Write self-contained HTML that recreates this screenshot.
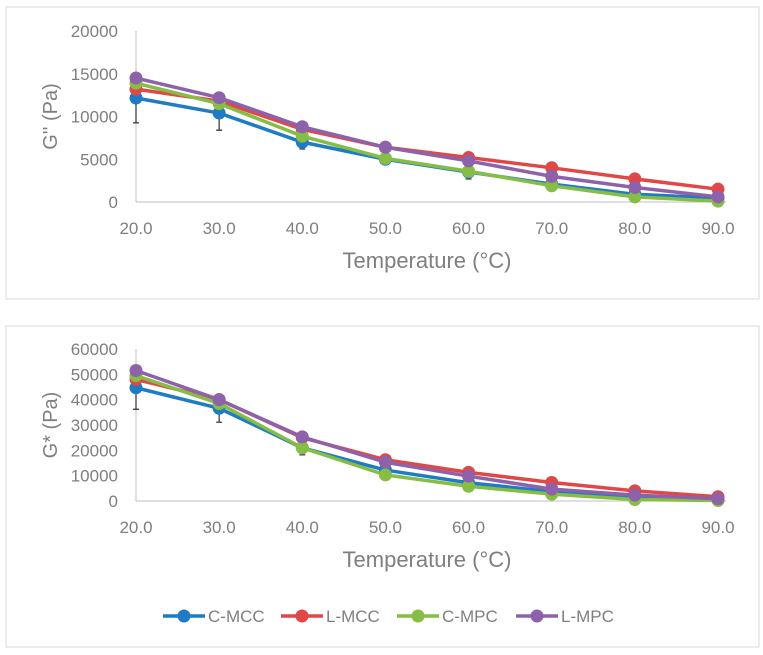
<!DOCTYPE html>
<html><head><meta charset="utf-8"><style>
body{margin:0;background:#fff;}
svg{display:block;font-family:"Liberation Sans",sans-serif;}
</style></head><body>
<svg id="c" width="763" height="655" viewBox="0 0 763 655">
<rect x="6" y="7" width="753" height="292" fill="#fff" stroke="#d9d9d9"/>
<rect x="6" y="326" width="753" height="321" fill="#fff" stroke="#d9d9d9"/>
<g id="top"></g><g id="bot"></g><g id="legend"></g>
</svg>
<script>
const temps=["20.0","30.0","40.0","50.0","60.0","70.0","80.0","90.0"];
const seriesNames=["C-MCC","L-MCC","C-MPC","L-MPC"];
const colors=["#1f7cc4","#e04848","#86bd45","#8e62aa"];
const topTicks=[0,5000,10000,15000,20000];
const topCMCC=[12160,10400,7000,5000,3500,2100,900,450];
const topLMCC=[13200,11800,8500,6400,5200,4000,2700,1500];
const topCMPC=[13900,11500,7700,5100,3600,1900,600,100];
const topLMPC=[14500,12200,8800,6400,4800,3000,1700,600];
const topErr=[2900,2000,800,500,800,500,300,200];
const botTicks=[0,10000,20000,30000,40000,50000,60000];
const botCMCC=[44700,36600,21000,12200,7200,3700,1700,700];
const botLMCC=[48000,40000,25000,16300,11300,7300,4000,1700];
const botCMPC=[49500,38500,21000,10300,5800,2700,600,200];
const botLMPC=[51500,40000,25300,15300,9800,4700,2300,900];
const botErr=[8500,5500,2800,1200,900,600,400,300];
const NS="http://www.w3.org/2000/svg";
function mk(p,t,a){const e=document.createElementNS(NS,t);for(const k in a)e.setAttribute(k,a[k]);p.appendChild(e);return e;}
function chart(g,cfg){
  const x0=136,x1=718;
  const xs=i=>x0+(x1-x0)*i/(temps.length-1);
  const ys=v=>cfg.yb-(cfg.yb-cfg.yt)*v/cfg.max;
  const ya=mk(g,'line',{x1:x0,y1:cfg.yt,x2:x0,y2:cfg.yb,stroke:'#bfbfbf'});
  
  
  const xa=mk(g,'line',{x1:x0,y1:cfg.yb,x2:x1+8,y2:cfg.yb,stroke:'#bfbfbf'});
  
  
  cfg.ticks.forEach(t=>{const e=mk(g,'text',{x:x0-18,y:ys(t)+6,'text-anchor':'end','font-size':17,fill:'#7f7f7f'});e.textContent=t;
    
    });
  temps.forEach((t,i)=>{const e=mk(g,'text',{x:xs(i),y:cfg.yb+32,'text-anchor':'middle','font-size':17,fill:'#7f7f7f'});e.textContent=t;
    
    });
  const xt=mk(g,'text',{x:427,y:cfg.yb+66,'text-anchor':'middle','font-size':22,fill:'#7f7f7f'});xt.textContent='Temperature (°C)';
  
  
  const yt=mk(g,'text',{x:0,y:0,'text-anchor':'middle','font-size':20,fill:'#7f7f7f',transform:`translate(${cfg.tx},${(cfg.yt+cfg.yb)/2}) rotate(-90)`});yt.textContent=cfg.title;
  
  
  cfg.data.forEach((d,s)=>{
    const pl=mk(g,'polyline',{points:d.map((v,i)=>xs(i)+','+ys(v)).join(' '),fill:'none',stroke:colors[s],'stroke-width':3.5});
    
    
    if(s===0){cfg.err.forEach((e,i)=>{const x=xs(i),a=ys(d[i]+e),b=ys(Math.max(0,d[i]-e));
      const eb=mk(g,'path',{d:`M${x},${a}V${b}M${x-3},${a}H${x+3}M${x-3},${b}H${x+3}`,stroke:'#404040','stroke-width':1.3,fill:'none'});
      
      });}
    d.forEach((v,i)=>{const c=mk(g,'circle',{cx:xs(i),cy:ys(v),r:6.5,fill:colors[s]});
      
      });
  });
}
chart(document.getElementById('top'),{yt:31,yb:202,max:20000,ticks:topTicks,title:"G'' (Pa)",tx:57,data:[topCMCC,topLMCC,topCMPC,topLMPC],err:topErr});
chart(document.getElementById('bot'),{yt:349,yb:501,max:60000,ticks:botTicks,title:"G* (Pa)",tx:57,data:[botCMCC,botLMCC,botCMPC,botLMPC],err:botErr});
const lg=document.getElementById('legend');
const lx=[163,281,397,516];
seriesNames.forEach((n,s)=>{
  const l=mk(lg,'line',{x1:lx[s],y1:616,x2:lx[s]+42,y2:616,stroke:colors[s],'stroke-width':3.5});
  
  
  const c=mk(lg,'circle',{cx:lx[s]+21,cy:616,r:6.5,fill:colors[s]});
  
  
  const t=mk(lg,'text',{x:lx[s]+45,y:622,'font-size':17,fill:'#7f7f7f'});t.textContent=n;
  
  
});
</script>
</body></html>
